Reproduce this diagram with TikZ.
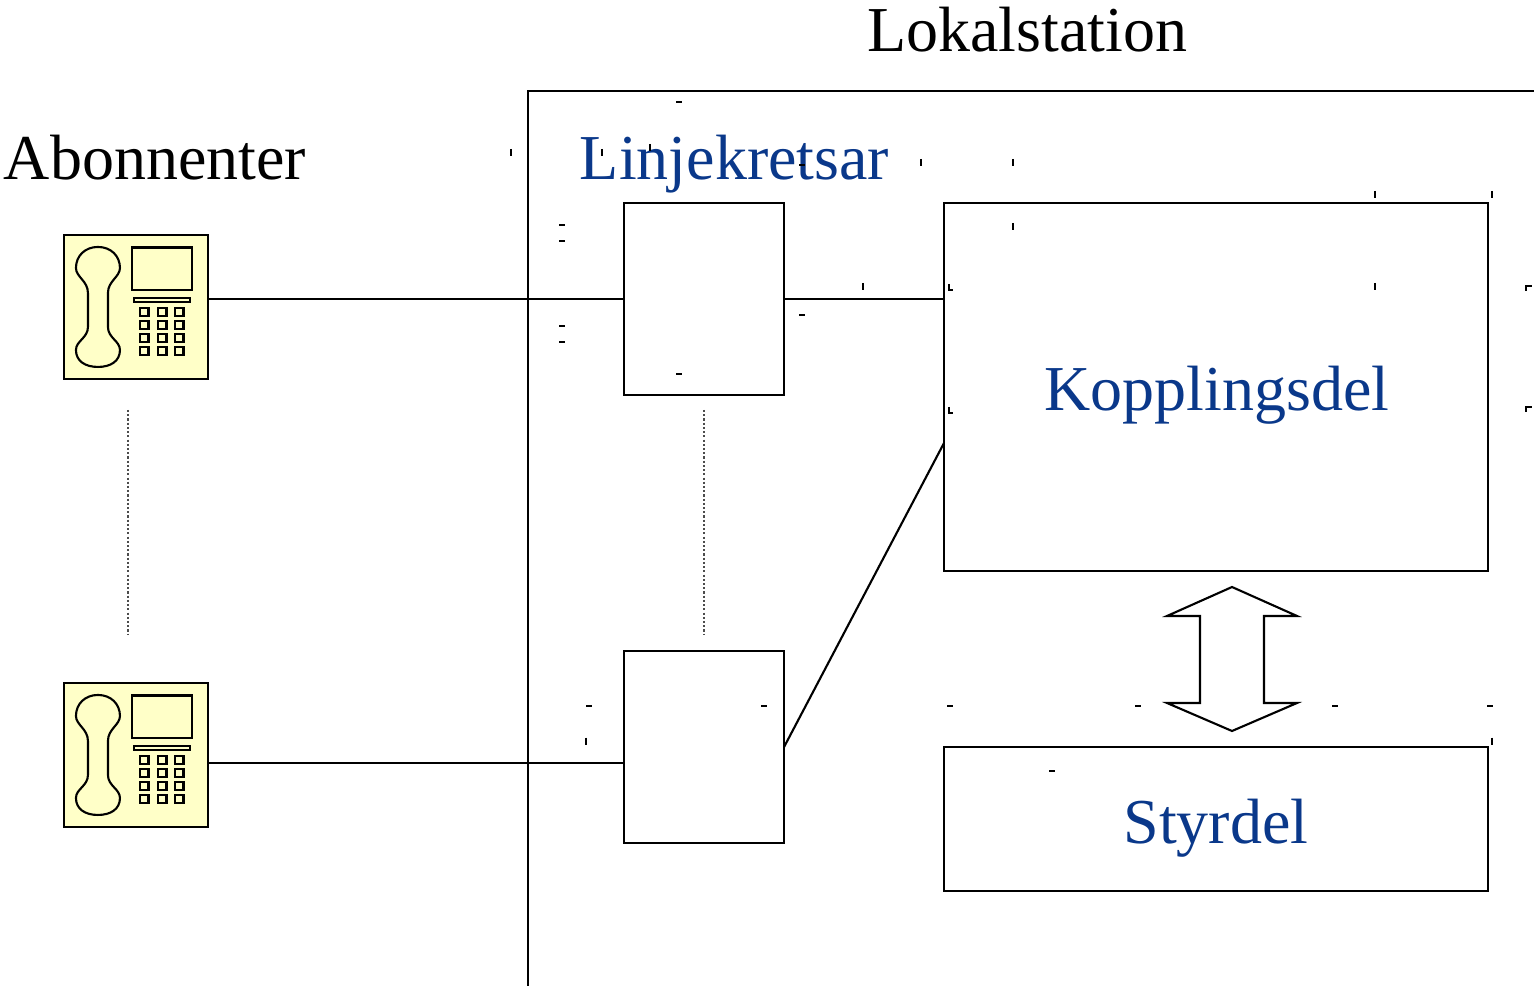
\documentclass[tikz,border=0pt]{standalone}
\usepackage{fontspec}
\setmainfont{Liberation Serif}
\definecolor{labelblue}{HTML}{0A388A}
\definecolor{phoneyellow}{HTML}{FFFFC8}

\begin{document}
\begin{tikzpicture}[
        x=0.01cm, y=-0.01cm,
        phonebox/.style={rectangle, draw, fill=phoneyellow, line width=0.6pt, minimum size=1.44cm, inner sep=0pt, outer sep=0pt},
        linebox/.style={rectangle, draw, line width=0.6pt, minimum width=1.6cm, minimum height=1.92cm, inner sep=0pt, outer sep=0pt},
        partbox/.style={rectangle, draw, line width=0.6pt, minimum width=5.44cm, inner sep=0pt, outer sep=0pt},
        link/.style={line width=0.6pt},
        dots/.style={black!70, line width=0.5pt, dash pattern=on 0.6pt off 0.6pt},
        title/.style={font=\fontsize{18.2}{20}\selectfont, anchor=base, inner sep=0pt},
        bluetitle/.style={title, text=labelblue},
        speck/.style={line width=0.35pt}
    ]
    \useasboundingbox (0,0) rectangle (1534,986);

    % Station border
    \coordinate (borderlow) at (528,986);
    \coordinate (bordercorner) at (528,91);
    \coordinate (borderend) at (1534,91);
    \draw[link] (borderlow) -- (bordercorner) -- (borderend);

    % Titles
    \node[title] (lokal) at (1027,52) {Lokalstation};
    \node[title] (abon) at (155,180) {Abonnenter};
    \node[bluetitle] (linjer) at (734.5,180) {Linjekretsar};

    % Phones
    \foreach \pname/\py in {phoneA/307, phoneB/755} {
        \node[phonebox] (\pname) at (136,\py) {};
        \begin{scope}[shift={(\pname.north west)}, line width=0.6pt]
            \draw (34,12) .. controls (47,12) and (56,21) .. (56,33)
                .. controls (56,42) and (44,46) .. (44,58) -- (44,92)
                .. controls (44,103) and (56,106) .. (56,115)
                .. controls (56,126) and (47,132) .. (34,132)
                .. controls (21,132) and (12,126) .. (12,115)
                .. controls (12,106) and (24,103) .. (24,92) -- (24,58)
                .. controls (24,46) and (12,42) .. (12,33)
                .. controls (12,21) and (21,12) .. (34,12) -- cycle;
            \draw (68,12.5) rectangle (128,55);
            \draw (70,63) rectangle (126,67);
            \foreach \kx in {76,94,111}
                \foreach \ky in {73,86,99,112}
                    \draw (\kx,\ky) rectangle +(8.5,8);
        \end{scope}
    }

    % Line circuits
    \node[linebox] (cardA) at (704,299) {};
    \node[linebox] (cardB) at (704,747) {};

    % Switching and control
    \node[partbox, minimum height=3.68cm] (koppling) at (1216,387) {};
    \node[partbox, minimum height=1.44cm] (styr) at (1216,819) {};
    \node[bluetitle] (kopplingtext) at (1217,411) {Kopplingsdel};
    \node[bluetitle] (styrtext) at (1216,843) {Styrdel};

    % Connections
    \coordinate (phoneAout) at (208,299);
    \coordinate (phoneBout) at (208,763);
    \coordinate (cardBin) at (624,763);
    \coordinate (kopplingin) at (944,443);
    \draw[link] (phoneAout) -- (cardA.west);
    \draw[link] (phoneBout) -- (cardBin);
    \draw[link] (cardA.east) -- (koppling.west |- cardA.east);
    \draw[link] (cardB.east) -- (kopplingin);

    % Dotted continuation
    \coordinate (dotsAtop) at (128,410);
    \coordinate (dotsAlow) at (128,634);
    \coordinate (dotsBtop) at (704,410);
    \coordinate (dotsBlow) at (704,634);
    \draw[dots] (dotsAtop) -- (dotsAlow);
    \draw[dots] (dotsBtop) -- (dotsBlow);

    % Block arrow
    \draw[line width=0.6pt, fill=white] (1232,587) -- (1297,616) -- (1264,616) -- (1264,703) -- (1297,703)
        -- (1232,731) -- (1167,703) -- (1200,703) -- (1200,616) -- (1167,616) -- cycle;

    % Specks
    \foreach \sx/\sy in {679/102, 562/225, 562/241, 562/326, 562/342, 679/374, 802/315, 802/165,
        589/706, 764/706, 950/706, 1138/706, 1335/706, 1490/706, 1052/771}
        \draw[speck] (\sx-3,\sy) -- (\sx+3,\sy);
    \foreach \sx/\sy in {511/152.5, 602/152.5, 650/147.5, 921/162.5, 1013/162.5, 1375/194.5, 1492/194.5, 1013/226.5,
        863/286.5, 1375/286.5, 586/741, 1492/741}
        \draw[speck] (\sx,\sy-3.5) -- (\sx,\sy+3.5);
    \foreach \sx/\sy in {949/287, 949/410}
        \draw[speck] (\sx,\sy-3) -- (\sx,\sy+3) -- (\sx+4,\sy+3);
    \foreach \sx/\sy in {1526/288, 1526/409}
        \draw[speck] (\sx,\sy+3) -- (\sx,\sy-2) -- (\sx+6,\sy-2);

\end{tikzpicture}
\end{document}
